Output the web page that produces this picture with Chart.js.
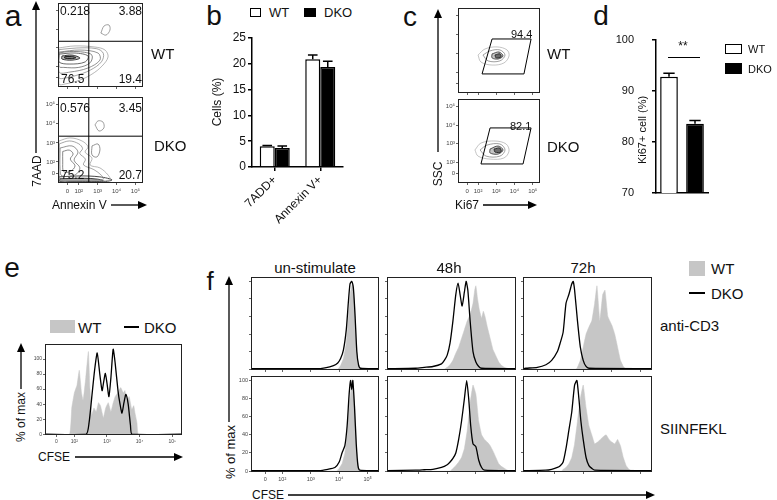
<!DOCTYPE html>
<html>
<head>
<meta charset="utf-8">
<script src="https://cdn.jsdelivr.net/npm/chart.js@4.4.1/dist/chart.umd.min.js"></script>
<style>
html,body{margin:0;padding:0;background:#fff;}
#fig{position:relative;width:777px;height:500px;overflow:hidden;font-family:"Liberation Sans",Arial,"DejaVu Sans",sans-serif;color:#111;}
#fig canvas{position:absolute;}
.t{position:absolute;white-space:nowrap;line-height:1;}
svg{position:absolute;left:0;top:0;}
</style>
</head>
<body>
<div id="fig"></div>
<script>
// ---------- data ----------
const flowTickPos = [1.4, 2, 3, 4, 5];
const flowTickText = ['0', '10²', '10³', '10⁴', '10⁵'];
const histTickPos = [0, 20, 40, 60, 80, 100];

// a: annexin V / 7AAD contours (decade units)
const aQuadX = 2.53, aQuadY = 3.35;
const aWtC1 = [[0.93,2.99],[1.8,3.1],[2.86,3.04],[3.39,2.88],[3.55,2.51],[3.23,2.02],[2.7,1.59],[2.06,1.27],[1.27,1.06],[0.95,1.06]];
const aWtC1b = [[0.95,2.9],[1.9,2.99],[2.95,2.95],[3.3,2.7],[3.2,2.25],[2.6,1.8],[1.8,1.5],[1.1,1.35],[0.95,1.4]];
const aWtC2 = [[0.95,2.77],[2.06,2.88],[3.02,2.72],[3.12,2.34],[2.49,1.92],[1.53,1.7],[0.95,1.7]];
const aWtC2b = [[0.95,2.72],[1.5,2.8],[2.3,2.76],[2.7,2.6],[2.6,2.2],[2.0,1.95],[1.2,1.95],[0.95,2.0]];
const aWtC3 = [[0.95,2.66],[1.8,2.72],[2.49,2.56],[2.33,2.24],[1.53,2.13],[0.95,2.24]];
const aWtC4 = [[1.11,2.56],[1.64,2.61],[2.06,2.45],[1.64,2.34],[1.11,2.4]];
const aWtC5 = [[1.25,2.52],[1.6,2.54],[1.85,2.47],[1.6,2.42],[1.25,2.45]];
const aWtIsle = [[3.17,3.79],[3.34,4.17],[3.6,4.22],[3.65,3.95],[3.44,3.68]];
const aDkoC1 = [[0.95,3.1],[1.53,3.26],[2.17,3.1],[2.49,2.79],[2.33,2.52],[2.7,2.21],[2.6,1.84],[3.12,1.69],[3.55,1.32],[3.65,1.06],[2.6,1.01],[1.53,1.01],[0.95,1.01]];
const aDkoC1b = [[0.97,2.95],[1.5,3.1],[2.0,2.95],[2.2,2.7],[2.05,2.45],[2.35,2.15],[2.25,1.85],[2.8,1.6],[3.2,1.3],[3.3,1.1],[2.4,1.05],[1.3,1.05],[0.97,1.1]];
const aDkoC2 = [[1.01,2.73],[1.64,2.84],[1.96,2.52],[1.75,2.1],[2.06,1.69],[1.8,1.32],[1.11,1.27],[1.01,1.58]];
const aDkoC3 = [[1.15,2.55],[1.5,2.62],[1.7,2.42],[1.55,2.15],[1.8,1.8],[1.55,1.5],[1.2,1.5],[1.15,2.0]];
const aDkoIsle1 = [[2.86,3.94],[3.02,4.15],[3.28,4.09],[3.33,3.78],[3.07,3.62]];
const aDkoIsle2 = [[2.7,2.84],[3.02,2.94],[3.12,2.63],[2.96,2.26],[2.7,2.37]];
const aDkoBand = [[0.95,1.22],[2.06,1.27],[3.12,1.22],[3.76,1.06],[3.12,0.95],[1.53,0.95],[0.95,0.95]];
const aDkoBand2 = [[1.0,1.12],[2.2,1.15],[3.0,1.1],[3.3,1.0],[2.2,0.97],[1.0,0.98]];

// b: apoptosis bars
const bCats = ['7ADD+', 'Annexin V+'];
const bWt = [4.0, 20.9];
const bWtErr = [0.15, 0.8];
const bDko = [3.7, 19.4];
const bDkoErr = [0.35, 1.1];

// c: Ki67 / SSC contours and gates
const cWtC1 = [[2.0,2.91],[2.38,3.23],[3.04,3.34],[3.59,3.18],[3.7,2.86],[3.42,2.49],[2.77,2.38],[2.16,2.54]];
const cWtC2 = [[2.27,2.91],[2.66,3.13],[3.2,3.18],[3.48,2.91],[3.2,2.6],[2.55,2.6]];
const cWtC3 = [[2.77,2.97],[3.15,3.07],[3.37,2.86],[3.1,2.7],[2.77,2.76]];
const cWtC4 = [[2.93,2.91],[3.2,2.97],[3.26,2.81],[2.99,2.76]];
const cDkoC1 = [[1.83,2.67],[2.16,3.04],[2.93,3.15],[3.54,2.99],[3.7,2.61],[3.42,2.24],[2.66,2.18],[2.0,2.34]];
const cDkoC2 = [[2.11,2.67],[2.49,2.93],[3.2,2.99],[3.48,2.67],[3.2,2.34],[2.44,2.34]];
const cDkoC3 = [[2.66,2.72],[3.1,2.88],[3.37,2.67],[3.1,2.45],[2.66,2.51]];
const cDkoC4 = [[2.88,2.72],[3.2,2.77],[3.26,2.56],[2.93,2.56]];
const cWtGate = [[2.77,3.76],[4.91,3.76],[4.52,1.91],[2.22,1.91]];
const cDkoGate = [[2.66,3.85],[4.91,3.85],[4.47,1.92],[2.16,1.92]];

// d: Ki67+ bars
const dCats = ['WT', 'DKO'];
const dVals = [92.8, 83.6];
const dErr = [0.7, 0.6];

// e: CFSE histogram
const eTickPos = [1.45, 2, 3, 4, 5];
const eDko = [[1.1,0],[2.36,0],[2.45,15],[2.54,52],[2.62,85],[2.7,108],[2.78,80],[2.85,58],[2.9,70],[2.95,81],[3.0,68],[3.06,50],[3.12,75],[3.19,113],[3.25,95],[3.34,57],[3.4,40],[3.46,28],[3.52,42],[3.58,53],[3.65,40],[3.72,12],[3.77,0],[5.3,0]];
const eWt = [[1.1,0],[1.85,0],[1.92,35],[2.0,55],[2.08,65],[2.15,85],[2.22,55],[2.27,45],[2.35,75],[2.43,110],[2.48,60],[2.53,25],[2.6,35],[2.67,30],[2.74,42],[2.8,38],[2.89,22],[2.96,35],[3.04,42],[3.12,30],[3.18,40],[3.25,50],[3.33,55],[3.42,62],[3.5,55],[3.55,58],[3.61,45],[3.68,50],[3.76,33],[3.82,38],[3.86,28],[3.92,15],[3.96,0],[5.3,0]];

// f: CFSE dilution histograms
const fUnCd3Dko = [[0.9,0.5],[3.2,0.5],[3.5,1.5],[3.8,4],[3.95,7],[4.05,12],[4.15,22],[4.25,45],[4.32,75],[4.38,97],[4.44,100],[4.5,92],[4.56,60],[4.62,20],[4.68,5],[4.75,1],[5.4,0.5]];
const fUnCd3Wt = [[0.9,0],[3.95,0],[4.05,4],[4.15,12],[4.25,30],[4.33,62],[4.4,88],[4.47,98],[4.53,80],[4.6,35],[4.66,5],[4.72,0],[5.4,0]];
const f48Cd3Dko = [[0.9,0.5],[1.9,1],[2.2,2],[2.5,3],[2.8,6],[2.9,10],[3.0,16],[3.1,30],[3.2,55],[3.3,85],[3.38,98],[3.45,85],[3.52,72],[3.6,88],[3.66,100],[3.72,90],[3.8,55],[3.9,20],[4.0,8],[4.1,3],[4.2,1],[5.4,0.5]];
const f48Cd3Wt = [[0.9,0],[2.9,0],[3.0,2],[3.1,5],[3.2,10],[3.3,18],[3.4,25],[3.5,35],[3.6,45],[3.7,55],[3.8,62],[3.9,75],[3.96,90],[4.0,95],[4.06,80],[4.12,68],[4.2,58],[4.26,66],[4.32,60],[4.4,48],[4.5,35],[4.6,22],[4.7,15],[4.8,8],[4.9,4],[5.0,2],[5.1,1],[5.2,0],[5.4,0]];
const f72Cd3Dko = [[0.9,0.5],[1.0,1],[1.4,2],[1.7,5],[1.9,10],[2.1,20],[2.2,30],[2.3,42],[2.4,75],[2.5,85],[2.6,97],[2.65,100],[2.7,90],[2.8,55],[2.9,25],[3.0,10],[3.1,3],[3.2,1],[5.4,0.5]];
const f72Cd3Wt = [[0.9,0],[2.75,0],[2.8,2],[2.9,10],[3.0,25],[3.1,40],[3.2,48],[3.3,55],[3.4,75],[3.48,95],[3.58,55],[3.68,85],[3.76,90],[3.86,60],[4.0,50],[4.1,40],[4.2,25],[4.3,10],[4.4,3],[4.5,0],[5.4,0]];
const fUnSiiDko = [[0.9,0.5],[3.3,0.5],[3.6,2],[3.85,4],[4.0,10],[4.1,20],[4.2,28],[4.28,50],[4.35,85],[4.4,100],[4.44,90],[4.48,100],[4.54,70],[4.6,30],[4.66,6],[4.72,1],[5.4,0.5]];
const fUnSiiWt = [[0.9,0],[3.9,0],[4.0,3],[4.1,8],[4.2,20],[4.28,40],[4.35,70],[4.42,90],[4.48,95],[4.55,70],[4.62,25],[4.68,4],[4.74,0],[5.4,0]];
const f48SiiDko = [[0.9,0.5],[1.9,1],[2.2,1.5],[2.5,2],[2.8,4],[3.0,7],[3.1,10],[3.2,14],[3.3,20],[3.4,35],[3.5,55],[3.6,80],[3.68,100],[3.75,80],[3.82,50],[3.9,30],[4.0,27],[4.1,12],[4.2,4],[4.3,1],[5.4,0.5]];
const f48SiiWt = [[0.9,0],[3.1,0],[3.2,3],[3.3,6],[3.4,10],[3.5,15],[3.6,25],[3.7,45],[3.8,75],[3.9,95],[4.0,85],[4.1,55],[4.2,40],[4.3,35],[4.4,32],[4.5,28],[4.6,22],[4.7,15],[4.8,8],[4.9,5],[5.0,3],[5.1,1],[5.2,0],[5.4,0]];
const f72SiiDko = [[0.9,0.5],[1.7,1],[1.9,2],[2.1,4],[2.2,6],[2.3,10],[2.4,25],[2.5,45],[2.6,65],[2.7,95],[2.78,100],[2.85,80],[2.92,55],[3.0,35],[3.1,15],[3.2,6],[3.3,3],[3.4,1],[5.4,0.5]];
const f72SiiWt = [[0.9,0],[2.25,0],[2.3,2],[2.4,4],[2.5,8],[2.6,15],[2.7,30],[2.8,55],[2.9,80],[3.0,95],[3.1,70],[3.2,50],[3.3,40],[3.4,30],[3.5,32],[3.6,35],[3.7,38],[3.8,40],[3.9,35],[4.0,32],[4.1,30],[4.2,35],[4.3,28],[4.4,15],[4.5,6],[4.6,2],[4.7,0],[5.4,0]];

// ---------- setup ----------
const FONT = '"Liberation Sans", Arial, "DejaVu Sans", sans-serif';
Chart.defaults.font.family = FONT;
Chart.defaults.color = '#111';
Chart.defaults.animation = false;
Chart.defaults.responsive = false;
Chart.defaults.plugins.legend.display = false;
Chart.defaults.plugins.tooltip.enabled = false;

const fig = document.getElementById('fig');

const framePlugin = {
  id: 'frame',
  afterDraw(chart) {
    const a = chart.chartArea, ctx = chart.ctx;
    ctx.save();
    ctx.strokeStyle = '#222';
    ctx.lineWidth = 1;
    ctx.strokeRect(a.left + 0.5, a.top + 0.5, a.right - a.left - 1, a.bottom - a.top - 1);
    ctx.restore();
  }
};

const errPlugin = {
  id: 'errbars',
  afterDatasetsDraw(chart, args, opts) {
    const ctx = chart.ctx, ys = chart.scales.y;
    ctx.save();
    ctx.strokeStyle = '#000';
    ctx.lineWidth = 1.5;
    opts.errors.forEach((errs, di) => {
      const meta = chart.getDatasetMeta(di);
      meta.data.forEach((bar, j) => {
        const v = chart.data.datasets[di].data[j];
        const top = ys.getPixelForValue(v + errs[j]);
        const hw = bar.width * 0.32;
        ctx.beginPath();
        ctx.moveTo(bar.x, bar.y);
        ctx.lineTo(bar.x, top);
        ctx.moveTo(bar.x - hw, top);
        ctx.lineTo(bar.x + hw, top);
        ctx.stroke();
      });
    });
    ctx.restore();
  }
};

function canvasAt(box, padL, padB, padT, padR) {
  const c = document.createElement('canvas');
  const w = box[2] + padL + padR, h = box[3] + padT + padB;
  c.width = w; c.height = h;
  c.style.left = (box[0] - padL) + 'px';
  c.style.top = (box[1] - padT) + 'px';
  c.style.width = w + 'px'; c.style.height = h + 'px';
  fig.appendChild(c);
  return c;
}

function fixSize(axis, size) {
  return s => {
    if (axis === 'x') s.height = size; else s.width = size;
    s.paddingLeft = s.paddingRight = s.paddingTop = s.paddingBottom = 0;
  };
}

function tickScale(axis, size, labels, min, max, pos, text, fs, pad) {
  return {
    type: 'linear', min: min, max: max,
    afterBuildTicks: s => { s.ticks = pos.map(v => ({ value: v })); },
    ticks: {
      display: labels, autoSkip: false, maxRotation: 0, padding: pad || 1,
      font: { size: fs }, color: '#444',
      callback: (v, i) => text ? text[i] : String(v)
    },
    grid: { drawOnChartArea: false, tickLength: 2, color: '#222', lineWidth: 0.7 },
    border: { display: false },
    afterFit: fixSize(axis, size)
  };
}

const xy = pts => pts.map(p => ({ x: p[0], y: p[1] }));
const loop = pts => xy(pts.concat([pts[0]]));

function contour(pts, color, w, shade) {
  return {
    data: loop(pts), borderColor: color, borderWidth: w, pointRadius: 0, tension: 0.35,
    fill: shade ? 'shape' : false, backgroundColor: shade || 'transparent'
  };
}
function straight(pts, color, w) {
  return { data: xy(pts), borderColor: color, borderWidth: w, pointRadius: 0, fill: false, tension: 0 };
}

function flowPlot(box, padL, padB, labels, sets) {
  const c = canvasAt(box, padL, padB, 0, 0);
  new Chart(c, {
    type: 'line',
    data: { datasets: sets },
    options: {
      layout: { padding: 0 },
      scales: {
        x: tickScale('x', padB, labels, 0.9, 5.4, flowTickPos, flowTickText, 6, 3),
        y: tickScale('y', padL, labels, 0.9, 5.4, flowTickPos, flowTickText, 6, 1)
      }
    },
    plugins: [framePlugin]
  });
}

function histPlot(box, padL, padB, labels, wt, dko, xmin, xmax, xpos, ymax, fs) {
  const c = canvasAt(box, padL, padB, 0, 0);
  new Chart(c, {
    type: 'line',
    data: {
      datasets: [
        { data: xy(dko), borderColor: '#000', borderWidth: 1.3, pointRadius: 0, fill: false, tension: 0.2 },
        { data: xy(wt), borderColor: '#c6c6c6', backgroundColor: '#c6c6c6', borderWidth: 0.5, pointRadius: 0, fill: 'origin', tension: 0.1 }
      ]
    },
    options: {
      layout: { padding: 0 },
      scales: {
        x: tickScale('x', padB, labels, xmin, xmax, xpos, flowTickText, fs, 2),
        y: tickScale('y', padL, labels, -1, ymax, histTickPos, null, fs, 1)
      }
    },
    plugins: [framePlugin]
  });
}

// ---------- panel a ----------
const quadA = [straight([[aQuadX,0.9],[aQuadX,5.4]], '#000', 1), straight([[0.9,aQuadY],[5.4,aQuadY]], '#000', 1)];
flowPlot([58, 3, 85, 84], 4, 4, false, quadA.concat([
  contour(aWtC1, '#9a9a9a', 0.7), contour(aWtC1b, '#808080', 0.7), contour(aWtC2, '#666', 0.7),
  contour(aWtC2b, '#555', 0.7), contour(aWtC3, '#444', 0.8), contour(aWtC4, '#222', 0.9, 'rgba(0,0,0,0.25)'),
  contour(aWtC5, '#111', 0.9, 'rgba(0,0,0,0.35)'), contour(aWtIsle, '#777', 0.7)
]));
flowPlot([58, 97, 85, 86], 14, 11, true, quadA.concat([
  contour(aDkoC1, '#9a9a9a', 0.7), contour(aDkoC1b, '#808080', 0.7), contour(aDkoC2, '#666', 0.7),
  contour(aDkoC3, '#555', 0.7), contour(aDkoIsle1, '#777', 0.7), contour(aDkoIsle2, '#666', 0.7),
  contour(aDkoBand, '#333', 0.9), contour(aDkoBand2, '#222', 0.9, 'rgba(0,0,0,0.3)')
]));

// ---------- panel b ----------
(function () {
  const c = canvasAt([252, 38, 91, 129], 22, 66, 8, 4);
  new Chart(c, {
    type: 'bar',
    data: {
      labels: bCats,
      datasets: [
        { data: bWt, backgroundColor: '#fff', borderColor: '#000', borderWidth: 1.5, categoryPercentage: 0.66, barPercentage: 1 },
        { data: bDko, backgroundColor: '#000', borderColor: '#000', borderWidth: 1.5, categoryPercentage: 0.66, barPercentage: 1 }
      ]
    },
    options: {
      layout: { padding: { top: 8, right: 4 } },
      plugins: { errbars: { errors: [bWtErr, bDkoErr] } },
      scales: {
        x: {
          ticks: { minRotation: 45, maxRotation: 45, font: { size: 12 }, color: '#111', padding: 2 },
          grid: { drawOnChartArea: false, offset: false, tickLength: 4, color: '#000', lineWidth: 1.5 },
          border: { color: '#000', width: 1.5 },
          afterFit: fixSize('x', 66)
        },
        y: {
          min: 0, max: 25,
          ticks: { stepSize: 5, font: { size: 12 }, color: '#111', padding: 2 },
          grid: { drawOnChartArea: false, tickLength: 4, color: '#000', lineWidth: 1.5 },
          border: { color: '#000', width: 1.5 },
          afterFit: fixSize('y', 22)
        }
      }
    },
    plugins: [errPlugin]
  });
})();

// ---------- panel c ----------
flowPlot([458, 8, 82, 85], 4, 4, false, [
  straight(cWtGate.concat([cWtGate[0]]), '#000', 1),
  contour(cWtC1, '#aaa', 0.7), contour(cWtC2, '#777', 0.7),
  contour(cWtC3, '#444', 0.9, 'rgba(60,60,60,0.3)'), contour(cWtC4, '#222', 1, 'rgba(0,0,0,0.5)')
]);
flowPlot([458, 99, 82, 84], 14, 11, true, [
  straight(cDkoGate.concat([cDkoGate[0]]), '#000', 1),
  contour(cDkoC1, '#aaa', 0.7), contour(cDkoC2, '#777', 0.7),
  contour(cDkoC3, '#444', 0.9, 'rgba(60,60,60,0.3)'), contour(cDkoC4, '#222', 1, 'rgba(0,0,0,0.5)')
]);

// ---------- panel d ----------
(function () {
  const c = canvasAt([656, 40, 52, 153], 40, 3, 10, 4);
  new Chart(c, {
    type: 'bar',
    data: {
      labels: dCats,
      datasets: [{ data: dVals, backgroundColor: ['#fff', '#000'], borderColor: '#000', borderWidth: 1.5, categoryPercentage: 1, barPercentage: 0.68 }]
    },
    options: {
      layout: { padding: { top: 10, right: 4 } },
      plugins: { errbars: { errors: [dErr] } },
      scales: {
        x: {
          ticks: { display: false },
          grid: { display: false },
          border: { color: '#000', width: 1.5 },
          afterFit: fixSize('x', 3)
        },
        y: {
          min: 70, max: 100,
          ticks: { stepSize: 10, font: { size: 11 }, color: '#111', padding: 18 },
          grid: { drawOnChartArea: false, tickLength: 4, color: '#000', lineWidth: 1.5 },
          border: { color: '#000', width: 1.5 },
          afterFit: fixSize('y', 40)
        }
      }
    },
    plugins: [errPlugin]
  });
})();

// ---------- panel e ----------
histPlot([45, 344, 137, 91], 14, 12, true, eWt, eDko, 1.1, 5.3, eTickPos, 120, 5);

// ---------- panel f ----------
const fCols = [[251, 128], [387, 129], [523, 129]];
const fRows = [[277, 93], [376, 96]];
const fData = [
  [[fUnCd3Wt, fUnCd3Dko], [f48Cd3Wt, f48Cd3Dko], [f72Cd3Wt, f72Cd3Dko]],
  [[fUnSiiWt, fUnSiiDko], [f48SiiWt, f48SiiDko], [f72SiiWt, f72SiiDko]]
];
fRows.forEach((r, ri) => fCols.forEach((col, ci) => {
  const lab = ri === 1 && ci === 0;
  histPlot([col[0], r[0], col[1], r[1]], lab ? 12 : 4, lab ? 12 : 4, lab,
    fData[ri][ci][0], fData[ri][ci][1], 0.9, 5.4, flowTickPos, 105, 5.5);
}));

// ---------- text ----------
function T(txt, x, y, size, opt) {
  opt = opt || {};
  const d = document.createElement('div');
  d.className = 't';
  d.textContent = txt;
  d.style.fontSize = size + 'px';
  d.style.left = x + 'px';
  d.style.top = y + 'px';
  let tr = opt.align === 'left' ? 'translate(0,-50%)' : opt.align === 'right' ? 'translate(-100%,-50%)' : 'translate(-50%,-50%)';
  if (opt.rot) tr += ' rotate(-90deg)';
  d.style.transform = tr;
  fig.appendChild(d);
}
// panel letters
T('a', 13, 16, 30); T('b', 214, 16, 28); T('c', 410, 17, 28); T('d', 601, 16, 28);
T('e', 12, 268, 28); T('f', 210, 281, 26);
// a
T('0.218', 60, 11, 12, { align: 'left' }); T('3.88', 142, 11, 12, { align: 'right' });
T('76.5', 61, 79, 12, { align: 'left' }); T('19.4', 142, 79, 12, { align: 'right' });
T('0.576', 60, 108, 12, { align: 'left' }); T('3.45', 142, 108, 12, { align: 'right' });
T('75.2', 61, 175, 12, { align: 'left' }); T('20.7', 142, 175, 12, { align: 'right' });
T('WT', 151, 53, 15, { align: 'left' }); T('DKO', 154, 145, 15, { align: 'left' });
T('7AAD', 37, 171, 12, { rot: true });
T('Annexin V', 52, 205, 12, { align: 'left' });
// b
T('WT', 269, 12, 13, { align: 'left' }); T('DKO', 324, 12, 13, { align: 'left' });
T('Cells (%)', 217, 102, 12, { rot: true });
// c
T('94.4', 511, 34, 11, { align: 'left' }); T('82.1', 510, 126, 11, { align: 'left' });
T('WT', 547, 53, 15, { align: 'left' }); T('DKO', 547, 146, 15, { align: 'left' });
T('SSC', 438, 174, 12, { rot: true });
T('Ki67', 455, 205, 12, { align: 'left' });
// d
T('**', 683, 46, 12);
T('Ki67+ cell (%)', 642, 130, 11, { rot: true });
T('WT', 748, 49, 11, { align: 'left' }); T('DKO', 748, 69, 11, { align: 'left' });
// e
T('WT', 78, 327, 15, { align: 'left' }); T('DKO', 144, 327, 15, { align: 'left' });
T('% of max', 21, 417, 12, { rot: true });
T('CFSE', 38, 457, 12, { align: 'left' });
// f
T('un-stimulate', 315, 267, 15); T('48h', 449, 267, 15); T('72h', 583, 267, 15);
T('WT', 711, 268, 15, { align: 'left' }); T('DKO', 711, 293, 15, { align: 'left' });
T('anti-CD3', 660, 325, 15, { align: 'left' }); T('SIINFEKL', 660, 428, 15, { align: 'left' });
T('% of max', 230, 452, 13, { rot: true });
T('CFSE', 252, 495, 12, { align: 'left' });

// legend boxes (html)
function box(x, y, w, h, bg, border) {
  const d = document.createElement('div');
  d.style.cssText = `position:absolute;left:${x}px;top:${y}px;width:${w}px;height:${h}px;background:${bg};box-sizing:border-box;` + (border ? 'border:1.5px solid #000;' : '');
  fig.appendChild(d);
}
box(250, 8, 11, 9, '#fff', true); box(304, 8, 12, 9, '#000', false);
box(725, 44, 17, 10, '#fff', true); box(725, 63, 17, 11, '#000', false);
box(50, 320, 25, 13, '#c6c6c6', false);
box(689, 261, 16, 15, '#c6c6c6', false);

// ---------- arrows and lines ----------
function arrow(x1, y1, x2, y2) {
  const a = Math.atan2(y2 - y1, x2 - x1), L = 9, W = 4;
  const bx = x2 - L * Math.cos(a), by = y2 - L * Math.sin(a);
  const px = -Math.sin(a) * W, py = Math.cos(a) * W;
  return `<line x1="${x1}" y1="${y1}" x2="${bx}" y2="${by}" stroke="#000" stroke-width="1.3"/>` +
    `<polygon points="${x2},${y2} ${bx + px},${by + py} ${bx - px},${by - py}" fill="#000"/>`;
}
const ln = (x1, y1, x2, y2, w) => `<line x1="${x1}" y1="${y1}" x2="${x2}" y2="${y2}" stroke="#000" stroke-width="${w}"/>`;
const svg = document.createElementNS('http://www.w3.org/2000/svg', 'svg');
svg.setAttribute('width', 777); svg.setAttribute('height', 500);
svg.innerHTML =
  arrow(36, 153, 36, 1) + arrow(111, 205, 147, 205) +
  arrow(438, 152, 438, 9) + arrow(483, 205, 537, 205) +
  ln(668, 57.5, 700, 57.5, 1) +
  arrow(21, 389, 21, 343) + arrow(75, 457, 183, 457) + ln(124, 327, 139, 327, 2) +
  arrow(229, 422, 229, 276) + arrow(288, 495, 655, 495) + ln(689, 293, 705, 293, 2);
fig.appendChild(svg);
</script>
</body>
</html>
